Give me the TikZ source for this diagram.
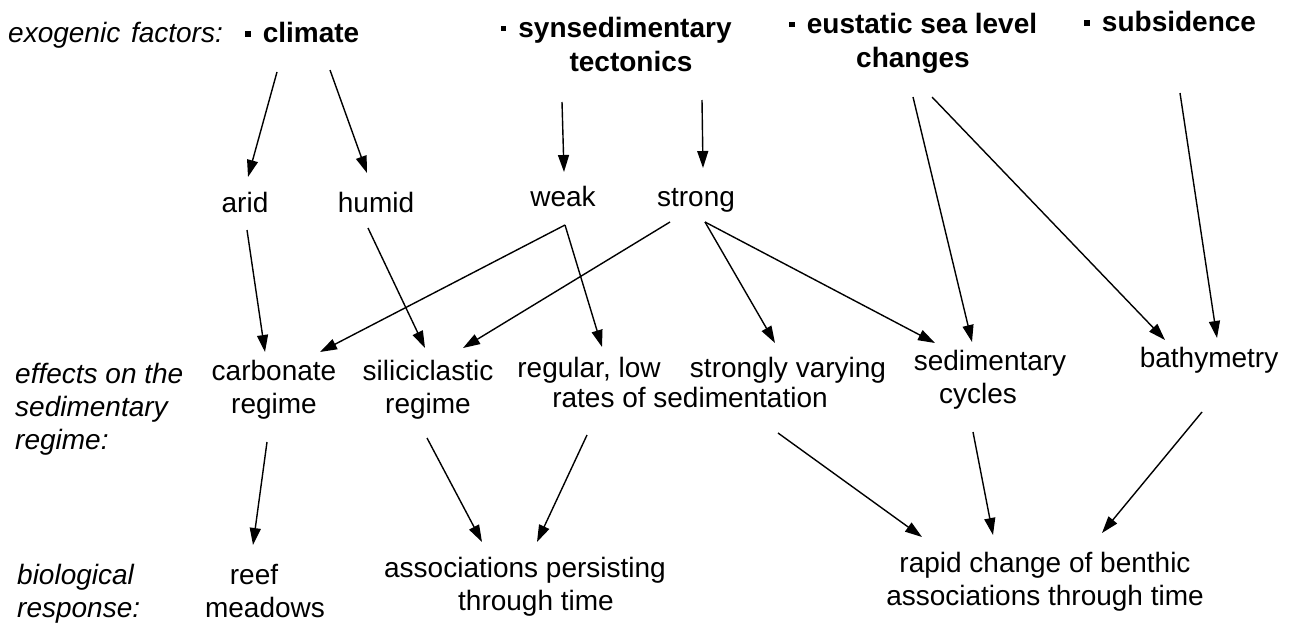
\documentclass[tikz,border=0pt]{standalone}
\usepackage{fontspec}
\setmainfont{Liberation Sans}
\usetikzlibrary{arrows.meta,calc}
\newcommand\sqbul{\llap{\rule[6pt]{5.5pt}{5.5pt}\hspace{12pt}}}
\tikzset{
  lbl/.style={inner sep=0pt,anchor=base,align=center,font=\fontsize{28}{33}\selectfont},
  side/.style={inner sep=0pt,anchor=base west,align=left,font=\fontsize{28}{33}\selectfont\itshape},
  fac/.style={inner sep=0pt,anchor=base,align=center,font=\fontsize{28}{34}\selectfont\bfseries},
  arr/.style={line width=1.4pt,-{Triangle[length=17pt,width=11pt]}}
}
\begin{document}
\begin{tikzpicture}[x=1pt,y=-1pt]
\useasboundingbox[fill=white] (0,0) rectangle (1292,626);
% row 1 (multi-line nodes are placed by the baseline of their last line)
\node[side] (exo) at (8,43) {exogenic\hspace{3pt} factors:};
\node[fac] (climate) at (311,43) {\sqbul climate};
\node[fac] (tect) at (625,71) {\sqbul synsedimentary\\\hspace{12pt}tectonics};
\node[fac] (eust) at (922,67) {\sqbul eustatic sea level\\changes\kern18pt};
\node[fac] (subs) at (1179,32) {\sqbul subsidence};
% row 2
\node[lbl] (arid) at (245,212) {arid};
\node[lbl] (humid) at (376,212) {humid};
\node[lbl] (weak) at (563,206) {weak};
\node[lbl] (strong) at (696,206) {strong};
% row 3
\node[side] (effects) at (15,449) {effects on the\\sedimentary\\regime:};
\node[lbl] (carb) at (274,413) {carbonate\\regime};
\node[lbl] (silic) at (428,413) {siliciclastic\\regime};
\node[lbl] (reglow) at (589,377) {regular, low};
\node[lbl] (strvar) at (788,377) {strongly varying};
\node[lbl] (rates) at (690,407) {rates of sedimentation};
\node[lbl] (sedcyc) at (990,403) {sedimentary\\cycles\kern24pt};
\node[lbl] (bathy) at (1209,367) {bathymetry};
% row 4
\node[side] (bio) at (17,617) {biological\\response:};
\node[lbl] (reef) at (265,617) {reef\kern22pt\\meadows};
\node[lbl] (assoc) at (525,610) {associations persisting\\\hspace{22pt}through time};
\node[lbl] (rapid) at (1045,605) {rapid change of benthic\\associations through time};
% arrows
\draw[arr] ($(climate.base)+(277-311,72-43)$) -- ($(arid.base)+(248-245,177-212)$);
\draw[arr] ($(climate.base)+(330-311,70-43)$) -- ($(humid.base)+(367-376,173-212)$);
\draw[arr] ($(tect.base)+(562-625,102-71)$) -- ($(weak.base)+(564-563,172-206)$);
\draw[arr] ($(tect.base)+(702-625,100-71)$) -- ($(strong.base)+(703-696,168-206)$);
\draw[arr] ($(arid.base)+(247-245,230-212)$) -- ($(carb.base)+(265-274,352-413)$);
\draw[arr] ($(humid.base)+(368-376,228-212)$) -- ($(silic.base)+(425-428,348-413)$);
\draw[arr] ($(weak.base)+(565-563,225-206)$) -- ($(carb.base)+(320-274,352-413)$);
\draw[arr] ($(weak.base)+(565-563,225-206)$) -- ($(reglow.base)+(602-589,347-377)$);
\draw[arr] ($(strong.base)+(670-696,222-206)$) -- ($(silic.base)+(463-428,348-413)$);
\draw[arr] ($(strong.base)+(705-696,222-206)$) -- ($(strvar.base)+(775-788,343-377)$);
\draw[arr] ($(strong.base)+(705-696,222-206)$) -- ($(sedcyc.base)+(935-990,343-403)$);
\draw[arr] ($(eust.base)+(913-922,97-67)$) -- ($(sedcyc.base)+(972-990,342-403)$);
\draw[arr] ($(eust.base)+(932-922,97-67)$) -- ($(bathy.base)+(1165-1209,340-367)$);
\draw[arr] ($(subs.base)+(1180-1179,93-32)$) -- ($(bathy.base)+(1217-1209,338-367)$);
\draw[arr] ($(carb.base)+(267-274,442-413)$) -- ($(reef.base)+(253-265,545-617)$);
\draw[arr] ($(silic.base)+(427-428,438-413)$) -- ($(assoc.base)+(482-525,542-610)$);
\draw[arr] ($(rates.base)+(587-690,435-407)$) -- ($(assoc.base)+(537-525,542-610)$);
\draw[arr] ($(rates.base)+(778-690,433-407)$) -- ($(rapid.base)+(922-1045,537-605)$);
\draw[arr] ($(sedcyc.base)+(973-990,432-403)$) -- ($(rapid.base)+(993-1045,535-605)$);
\draw[arr] ($(bathy.base)+(1202-1209,412-367)$) -- ($(rapid.base)+(1102-1045,533-605)$);
\end{tikzpicture}
\end{document}
